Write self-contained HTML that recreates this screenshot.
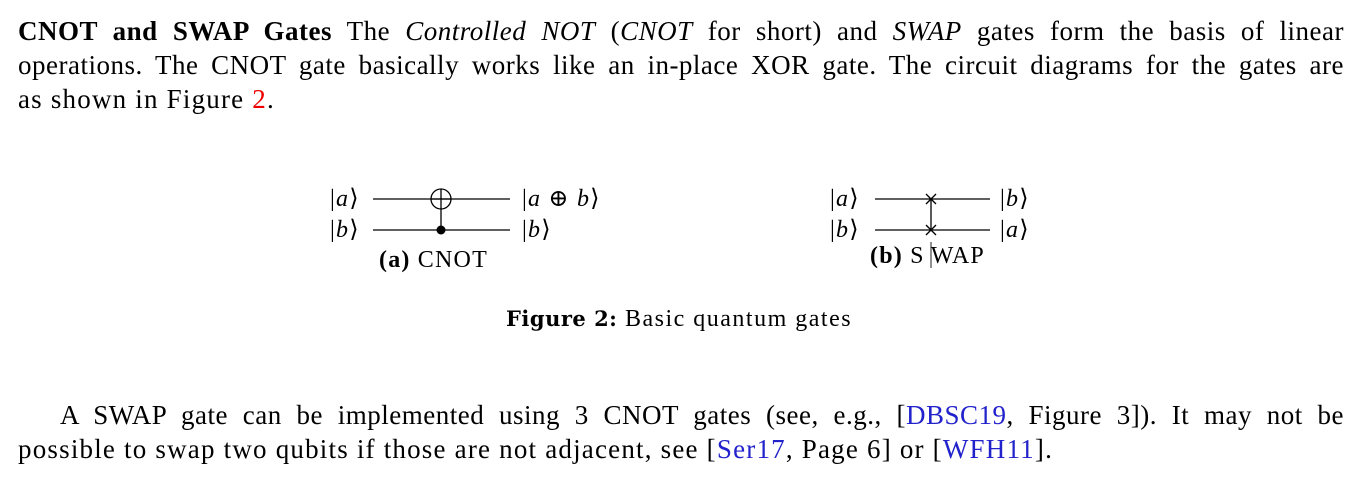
<!DOCTYPE html>
<html><head><meta charset="utf-8"><style>
body{margin:0;width:1362px;height:496px;background:#fff;position:relative;overflow:hidden;font-family:"Liberation Serif","DejaVu Serif",serif;color:#000}
.l{position:absolute;left:18px;width:1326px;font-size:27px;letter-spacing:1.2px;line-height:34px;white-space:nowrap}
.j{text-align:justify;text-align-last:justify;white-space:normal;letter-spacing:0.5px}
.t{position:absolute;font-size:24px;letter-spacing:1.2px;line-height:26px;white-space:nowrap}
.r{color:#e00}.b{color:#22c}
i{font-style:italic}
</style></head><body>
<div class="l j" style="top:14px"><b>CNOT and SWAP Gates</b> The <i>Controlled NOT</i> (<i>CNOT</i> for short) and <i>SWAP</i> gates form the basis of linear</div>
<div class="l j" style="top:48px">operations. The CNOT gate basically works like an in-place XOR gate. The circuit diagrams for the gates are</div>
<div class="l" style="top:82px">as shown in Figure <span class="r">2</span>.</div>

<svg style="position:absolute;left:0;top:0" width="1362" height="496">
<g stroke="#000" stroke-width="1.3" fill="none">
<line x1="373" y1="199" x2="510" y2="199"/><line x1="373" y1="230" x2="510" y2="230"/>
<circle cx="441" cy="199" r="10"/><line x1="441" y1="189" x2="441" y2="230"/><line x1="431" y1="199" x2="451" y2="199"/>
<line x1="875" y1="199" x2="990" y2="199"/><line x1="875" y1="230" x2="990" y2="230"/>
<line x1="931" y1="199" x2="931" y2="230"/>
<line x1="926" y1="194" x2="936" y2="204"/><line x1="926" y1="204" x2="936" y2="194"/>
<line x1="926" y1="225" x2="936" y2="235"/><line x1="926" y1="235" x2="936" y2="225"/>
<line x1="931" y1="242" x2="931" y2="268" stroke="#555"/>
</g>
<circle cx="441" cy="230" r="4.5" fill="#000"/>
</svg>
<div class="t" style="left:330px;top:186px">|<i>a</i>⟩</div>
<div class="t" style="left:330px;top:217px">|<i>b</i>⟩</div>
<div class="t" style="left:522px;top:186px">|<i>a</i> ⊕ <i>b</i>⟩</div>
<div class="t" style="left:522px;top:217px">|<i>b</i>⟩</div>
<div class="t" style="left:379px;top:247px"><b>(a)</b> CNOT</div>
<div class="t" style="left:830px;top:186px">|<i>a</i>⟩</div>
<div class="t" style="left:830px;top:217px">|<i>b</i>⟩</div>
<div class="t" style="left:1000px;top:186px">|<i>b</i>⟩</div>
<div class="t" style="left:1000px;top:217px">|<i>a</i>⟩</div>
<div class="t" style="left:870px;top:243px"><b>(b)</b> S<span style="margin-left:6px">WAP</span></div>
<div class="t" style="left:506px;top:306px;letter-spacing:1.5px"><b style="font-family:'DejaVu Serif',serif;font-size:21px;letter-spacing:0.5px">Figure 2:</b> Basic quantum gates</div>

<div class="l j" style="top:398px;left:60px;width:1284px">A SWAP gate can be implemented using 3 CNOT gates (see, e.g., [<span class="b">DBSC19</span>, Figure 3]). It may not be</div>
<div class="l" style="top:432px">possible to swap two qubits if those are not adjacent, see [<span class="b">Ser17</span>, Page 6] or [<span class="b">WFH11</span>].</div>
</body></html>
